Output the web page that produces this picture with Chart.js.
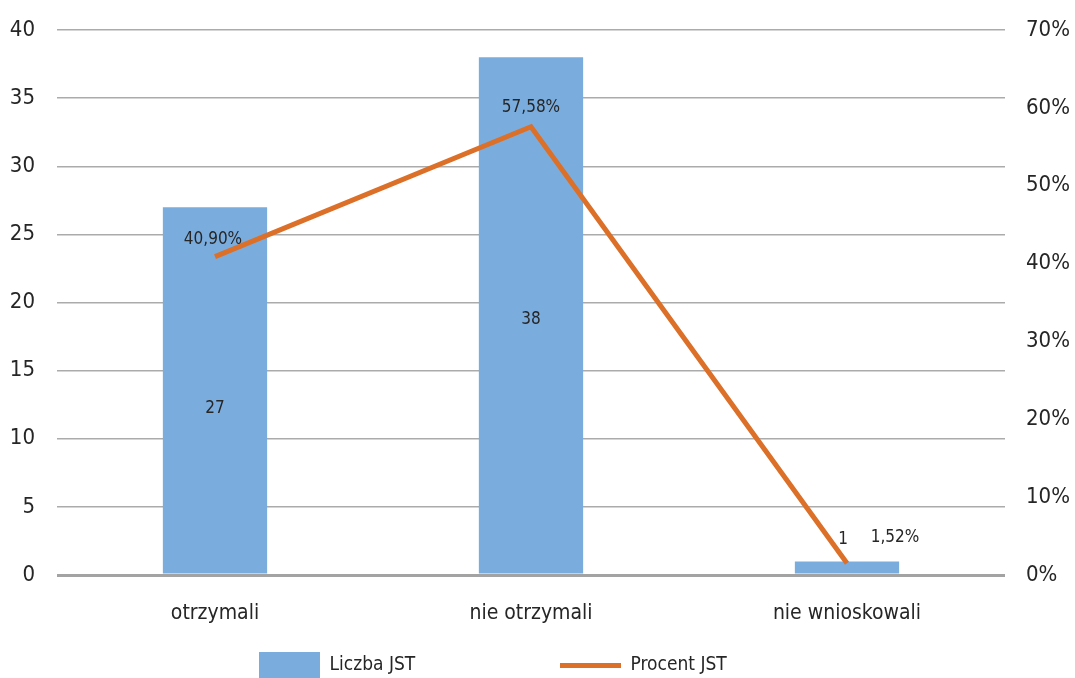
<!DOCTYPE html>
<html><head><meta charset="utf-8">
<script src="https://cdn.jsdelivr.net/npm/chart.js@4.4.1/dist/chart.umd.min.js"></script>
<style>html,body{margin:0;padding:0;background:#fff}#wrap{width:1075px;height:678px;position:relative}</style>
</head><body><div id="wrap"><canvas id="c"></canvas></div>
<script>
// ---- data ----
const categories = ['otrzymali', 'nie otrzymali', 'nie wnioskowali'];
const liczbaJST = [27, 38, 1];
const procentJST = [40.90, 57.58, 1.52];
const seriesNames = ['Liczba JST', 'Procent JST'];
const leftAxis = { min: 0, max: 40, step: 5 };
const rightAxis = { min: 0, max: 70, step: 10 };

// ---- styles ----
const FONT = '"Liberation Sans Narrow", "DejaVu Sans Condensed", sans-serif';
const TEXT = '#262626';
const BLUE = '#7AADDE';
const ORANGE = '#DC7028';
const LEGEND_FS = 19;
const LEGEND_BOX_W = 61;

function swatch(w, h, color) {
  const cv = document.createElement('canvas');
  cv.width = w; cv.height = h;
  const c = cv.getContext('2d');
  c.fillStyle = color; c.fillRect(0, 0, w, h);
  return cv;
}
const barSwatch = swatch(61, 26, BLUE);
const lineSwatch = swatch(61, 5, ORANGE);

// compute legend item spacing
const mctx = document.createElement('canvas').getContext('2d');
mctx.font = LEGEND_FS + 'px ' + FONT;
const tw0 = mctx.measureText(seriesNames[0]).width;
const legendGap = Math.max(10, 560 - (259 + LEGEND_BOX_W + LEGEND_FS / 2 + tw0));

const barLabelDy = [18, 4, 0];
const lineLabelOffset = [[-2, -17], [0, -19], [48, -26]];

const valueLabels = {
  id: 'valueLabels',
  afterDatasetsDraw(chart) {
    const ctx = chart.ctx;
    ctx.save();
    ctx.font = '17px ' + FONT;
    ctx.fillStyle = TEXT;
    ctx.textAlign = 'center';
    ctx.textBaseline = 'middle';
    const barMeta = chart.getDatasetMeta(1);
    barMeta.data.forEach((el, i) => {
      const h = el.base - el.y;
      let x = el.x, y;
      if (h < 40) { y = el.y - 22; x = el.x - 4; }
      else { y = (el.y + el.base) / 2 + barLabelDy[i]; }
      ctx.fillText(String(liczbaJST[i]), x, y);
    });
    const lineMeta = chart.getDatasetMeta(0);
    lineMeta.data.forEach((el, i) => {
      const t = procentJST[i].toFixed(2).replace('.', ',') + '%';
      ctx.fillText(t, el.x + lineLabelOffset[i][0], el.y + lineLabelOffset[i][1]);
    });
    ctx.restore();
  }
};

const legendPos = {
  id: 'legendPos',
  afterLayout(chart) {
    const lg = chart.legend;
    if (!lg || !lg.lineWidths) return;
    const p = lg.options.labels.padding;
    lg.top = 665 - LEGEND_FS / 2 - p;
    lg.bottom = chart.height;
    lg.left = 2 * 259 - p - lg.right + lg.lineWidths[0];
  }
};

const noVPad = s => { s.paddingTop = 0; s.paddingBottom = 0; };

new Chart(document.getElementById('c'), {
  type: 'bar',
  data: {
    labels: categories,
    datasets: [
      {
        type: 'line', label: seriesNames[1], data: procentJST, yAxisID: 'y1',
        borderColor: ORANGE, backgroundColor: ORANGE, borderWidth: 5,
        pointRadius: 0, pointHoverRadius: 0, tension: 0, borderJoinStyle: 'miter', fill: false
      },
      {
        type: 'bar', label: seriesNames[0], data: liczbaJST, yAxisID: 'y',
        backgroundColor: BLUE, borderWidth: 0,
        categoryPercentage: 1, barPercentage: 0.33
      }
    ]
  },
  options: {
    responsive: true, maintainAspectRatio: false, animation: false,
    layout: { padding: { top: 30, left: 0, right: 0, bottom: 0 } },
    plugins: {
      tooltip: { enabled: false },
      legend: {
        position: 'bottom', maxHeight: 40,
        labels: {
          usePointStyle: true, pointStyleWidth: LEGEND_BOX_W, boxHeight: LEGEND_FS,
          padding: legendGap, color: TEXT, font: { family: FONT, size: LEGEND_FS },
          generateLabels: () => [
            { text: seriesNames[0], fillStyle: BLUE, strokeStyle: BLUE, lineWidth: 0, pointStyle: barSwatch, datasetIndex: 1, fontColor: TEXT, hidden: false },
            { text: seriesNames[1], fillStyle: ORANGE, strokeStyle: ORANGE, lineWidth: 0, pointStyle: lineSwatch, datasetIndex: 0, fontColor: TEXT, hidden: false }
          ]
        }
      }
    },
    scales: {
      x: {
        grid: { display: false, drawTicks: false }, border: { display: false },
        ticks: { color: TEXT, font: { family: FONT, size: 21 }, padding: 26 },
        afterFit: s => { s.height = 63; }
      },
      y: {
        position: 'left', min: leftAxis.min, max: leftAxis.max,
        ticks: { stepSize: leftAxis.step, color: TEXT, font: { family: FONT, size: 22 }, padding: 22 },
        grid: {
          drawTicks: false,
          color: c => c.tick && c.tick.value === 0 ? '#A3A3A3' : '#ABABAB',
          lineWidth: c => c.tick && c.tick.value === 0 ? 3 : 1.5
        },
        border: { display: false },
        afterFit: s => { s.width = 57; noVPad(s); }
      },
      y1: {
        position: 'right', min: rightAxis.min, max: rightAxis.max,
        ticks: { stepSize: rightAxis.step, color: TEXT, font: { family: FONT, size: 22 }, padding: 21, callback: v => v + '%' },
        grid: { display: false, drawTicks: false },
        border: { display: false },
        afterFit: s => { s.width = 70; noVPad(s); }
      }
    }
  },
  plugins: [valueLabels, legendPos]
});
</script>
</body></html>
